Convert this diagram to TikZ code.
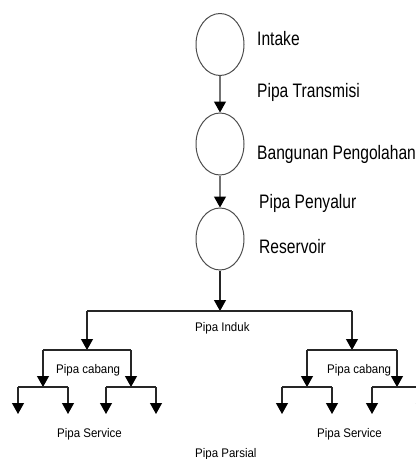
\documentclass[tikz,border=0pt]{standalone}
\usepackage{fontspec}
\setmainfont{Liberation Sans}[FakeStretch=0.8]
\newfontfamily\kecil{Liberation Sans}[FakeStretch=0.92]
\usetikzlibrary{arrows.meta,shapes.geometric}

\begin{document}
\begin{tikzpicture}[x=1pt,y=-1pt,
    unit/.style={ellipse,draw=black!70,line width=1pt,minimum width=48pt,minimum height=62pt,inner sep=0pt},
    lbl/.style={anchor=base west,inner sep=0pt,font=\fontsize{19.5}{22}\selectfont},
    sml/.style={anchor=base west,inner sep=0pt,font=\kecil\fontsize{12.5}{15}\selectfont},
    pipe/.style={draw=black!55,line width=1.2pt},
    tree/.style={draw=black!85,line width=1.1pt},
    arr/.style={-{Triangle[length=11pt,width=12pt,color=black]}}]
  \clip (0,0) rectangle (416,459);
  % unit pengolahan
  \node[unit] (intake) at (220,44.5) {};
  \node[unit] (olah) at (220,144) {};
  \node[unit] (res) at (220,239) {};
  \node[lbl] (tintake) at (257,45) {Intake};
  \node[lbl] (ttrans) at (257,97) {Pipa Transmisi};
  \node[lbl] (tolah) at (257,159) {Bangunan Pengolahan};
  \node[lbl] (tsalur) at (259,208) {Pipa Penyalur};
  \node[lbl] (tres) at (259,253) {Reservoir};
  \draw[pipe,arr] (intake) -- (olah);
  \draw[pipe,arr] (olah) -- (res);
  % jaringan distribusi
  \coordinate (induk) at (220,311);
  \coordinate (iL) at (87,311);
  \coordinate (iR) at (352,311);
  \coordinate (cL) at (87,350);
  \coordinate (cR) at (352,350);
  \coordinate (c1) at (43,350);
  \coordinate (c2) at (131,350);
  \coordinate (c3) at (307,350);
  \coordinate (c4) at (397,350);
  \draw[tree,arr] (res) -- (induk);
  \draw[tree] (iL) -- (iR);
  \draw[tree,arr] (iL) -- (cL);
  \draw[tree,arr] (iR) -- (cR);
  \draw[tree] (c1) -- (c2) (c3) -- (c4);
  \foreach \n/\x in {1/43,2/131,3/307,4/397}{
    \coordinate (d\n) at (\x,387);
    \coordinate (a\n) at (\x-25,387);
    \coordinate (b\n) at (\x+25,387);
    \coordinate (ea\n) at (\x-25,414);
    \coordinate (eb\n) at (\x+25,414);
    \draw[tree,arr] (c\n) -- (d\n);
    \draw[tree] (a\n) -- (b\n);
    \draw[tree,arr] (a\n) -- (ea\n);
    \draw[tree,arr] (b\n) -- (eb\n);
  }
  \node[sml] (tinduk) at (195,331) {Pipa Induk};
  \node[sml] (tcab1) at (56,373) {Pipa cabang};
  \node[sml] (tcab2) at (327,373) {Pipa cabang};
  \node[sml] (tserv1) at (57,437) {Pipa Service};
  \node[sml] (tserv2) at (317,437) {Pipa Service};
  \node[sml] (tpars) at (195,457) {Pipa Parsial};
\end{tikzpicture}
\end{document}
